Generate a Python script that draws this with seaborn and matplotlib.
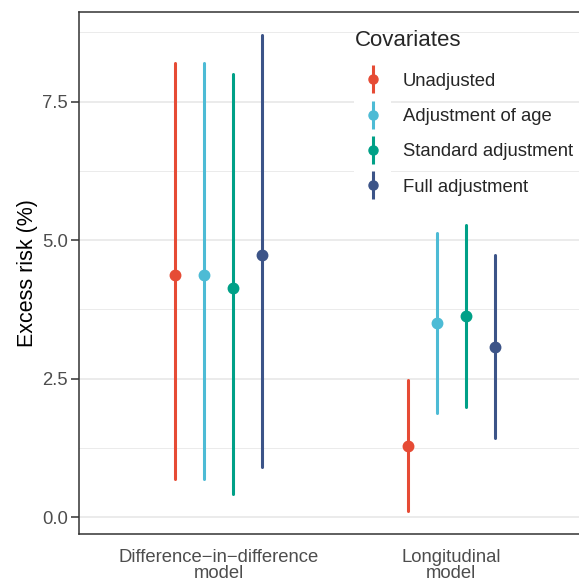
import numpy as np
import pandas as pd
import matplotlib
matplotlib.use("Agg")
import matplotlib.pyplot as plt
import seaborn as sns
from matplotlib.lines import Line2D
from matplotlib.legend_handler import HandlerTuple
from matplotlib.patches import Rectangle
from matplotlib.ticker import MultipleLocator, FormatStrFormatter

# ---------------- data ----------------
categories = ["Difference\u2212in\u2212difference\nmodel", "Longitudinal\nmodel"]
covariates = ["Unadjusted", "Adjustment of age", "Standard adjustment", "Full adjustment"]
colors = ["#E64B35", "#4DBBD5", "#00A087", "#3C5488"]

est_did = [4.37, 4.37, 4.13, 4.73]
lo_did = [0.69, 0.69, 0.42, 0.90]
hi_did = [8.20, 8.20, 8.00, 8.70]

est_long = [1.28, 3.50, 3.63, 3.07]
lo_long = [0.11, 1.89, 1.99, 1.44]
hi_long = [2.47, 5.13, 5.27, 4.73]

yticks = [0.0, 2.5, 5.0, 7.5]

# long table: lower, estimate, upper for each group (median = estimate, range = CI)
rows = []
for cat, est, lo, hi in [(categories[0], est_did, lo_did, hi_did),
                         (categories[1], est_long, lo_long, hi_long)]:
    for cov, e, l, h in zip(covariates, est, lo, hi):
        for v in (l, e, h):
            rows.append({"model": cat, "cov": cov, "value": v})
df = pd.DataFrame(rows)

# ---------------- figure ----------------
sns.set_theme(style="white")
plt.rcParams["font.family"] = ["Liberation Sans", "DejaVu Sans"]

W, H = 579, 583
fig = plt.figure(figsize=(W / 100, H / 100), dpi=100)
left, right, top, bottom = 79, 591, 11.8, 534
ax = fig.add_axes([left / W, 1 - bottom / H, (right - left) / W, (bottom - top) / H])

sns.pointplot(data=df, x="model", y="value", hue="cov", order=categories,
              hue_order=covariates, palette=colors, estimator="median",
              errorbar=("pi", 100), dodge=0.375, linestyle="none",
              markersize=6.5, err_kws={"linewidth": 2.2}, legend=False, ax=ax)

ax.set_xlim(-0.6, 1.6)
ax.set_ylim(-0.3, 9.12)
ax.set_yticks(yticks)
ax.yaxis.set_minor_locator(MultipleLocator(1.25))
ax.yaxis.set_major_formatter(FormatStrFormatter("%.1f"))
ax.set_axisbelow(True)
ax.grid(which="major", axis="y", color="#EBEBEB", lw=1.4)
ax.grid(which="minor", axis="y", color="#EBEBEB", lw=0.7)
ax.grid(which="major", axis="x", visible=False)
ax.tick_params(axis="y", which="major", length=6, width=1.1, color="#333333",
               labelsize=13.3, labelcolor="#4D4D4D", pad=2, left=True)
ax.tick_params(axis="y", which="minor", length=0)
ax.tick_params(axis="x", length=0, labelsize=13.3, labelcolor="#4D4D4D", pad=11)
for lab in ax.get_xticklabels():
    lab.set_linespacing(0.92)
for s in ax.spines.values():
    s.set_color("#333333")
    s.set_linewidth(1.1)
ax.set_xlabel("")
ax.set_ylabel("Excess risk (%)", fontsize=15.5, color="black", labelpad=3)

# white key backgrounds (ggplot legend keys)
ax.add_patch(Rectangle((354 / W, 1 - 204 / H), 37 / W, 145 / H,
                       transform=fig.transFigure, facecolor="white",
                       edgecolor="none", zorder=1))

handles = [(Line2D([], [], color=c, marker="|", markersize=20, mew=2.2, ls="none"),
            Line2D([], [], color=c, marker="o", markersize=6.5, ls="none"))
           for c in colors]
leg = ax.legend(handles, covariates, title="Covariates",
                handler_map={tuple: HandlerTuple(ndivide=1)},
                loc="upper left", bbox_to_anchor=(354.5 / W, 1 - 30.5 / H),
                bbox_transform=fig.transFigure, frameon=False, borderpad=0,
                borderaxespad=0, handlelength=2.0, handletextpad=0.62,
                labelspacing=0.99, fontsize=13.3, title_fontsize=16,
                alignment="left")
leg._legend_box.sep += 2.2

fig.savefig("out.png", dpi=100)
